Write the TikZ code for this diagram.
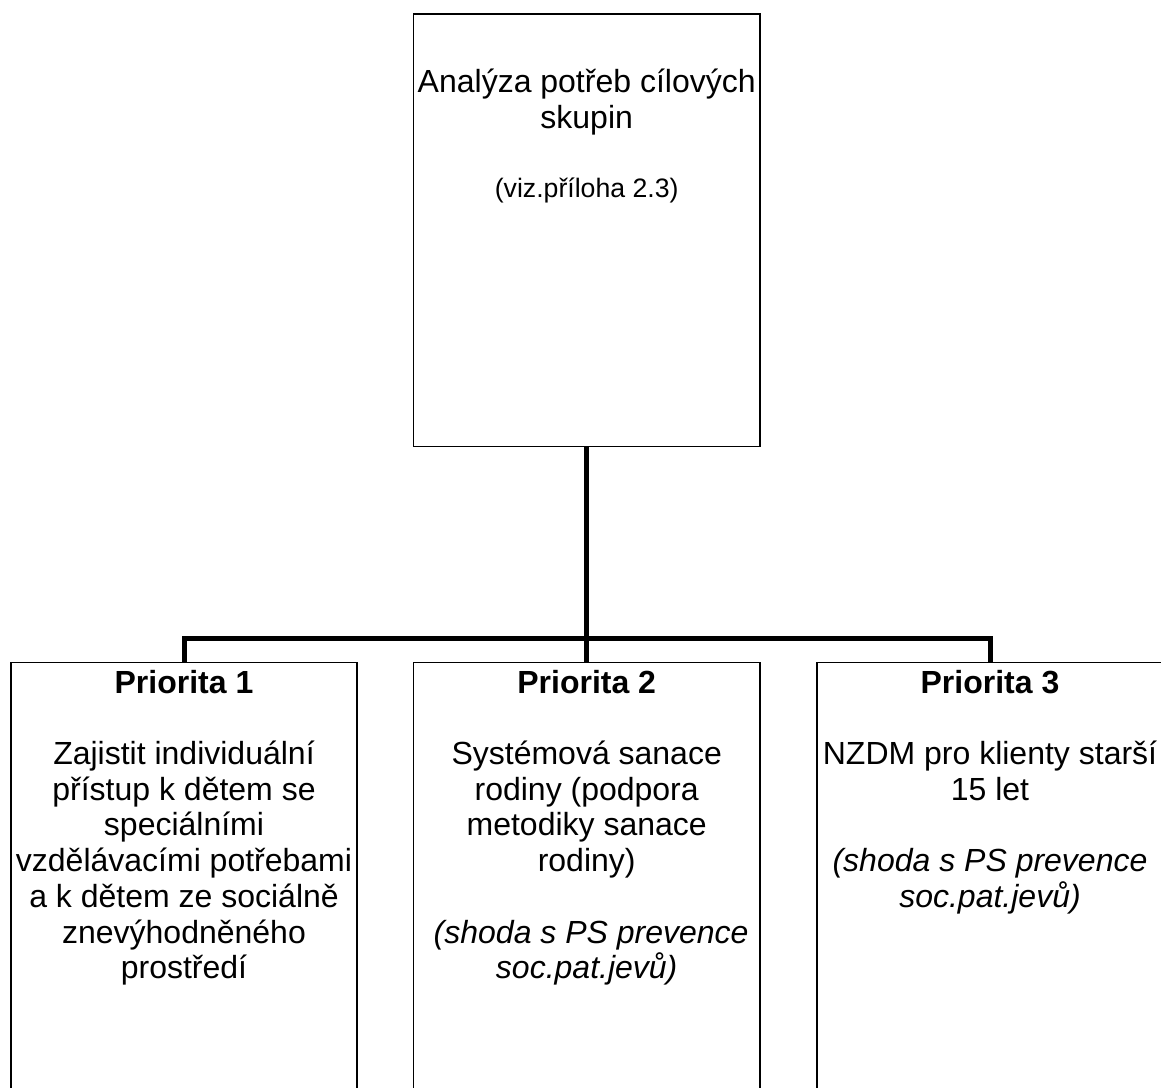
\documentclass[tikz,border=0pt]{standalone}
\usepackage{fontspec}
\setmainfont{Liberation Sans}
% centred block of lines whose first baseline is the node's base anchor
\newcommand\boxtext[1]{\parbox[t]{270pt}{\centering\fontsize{24}{26.8}\selectfont #1}}
\begin{document}
\begin{tikzpicture}[x=0.75pt,y=-0.75pt,
  frame/.style={draw=black,line width=1.3pt,fill=white,inner sep=0pt,
                minimum width=260pt,anchor=north},
  conn/.style={line width=3.75pt},
  txt/.style={anchor=base,inner sep=0pt}]
\clip (0,0) rectangle (1161,1088);
\fill[white] (0,0) rectangle (1161,1088);

% boxes
\node[frame,minimum height=324.3pt] (top) at (586.7,13.3) {};
\node[frame,minimum height=340pt] (p1) at (184,661.7) {};
\node[frame,minimum height=340pt] (p2) at (586.7,661.7) {};
\node[frame,minimum height=340pt] (p3) at (990,661.7) {};

% connectors
\coordinate (bus) at (0,638);
\draw[conn] (top.south) -- (p2.north);
\draw[conn] (p1.north) -- (p1.north |- bus) -- (p3.north |- bus) -- (p3.north);

% texts
\node[txt] (toptitle) at (586.7,92.5)
  {\parbox[t]{270pt}{\centering\fontsize{24}{26.8}\selectfont
   Analýza potřeb cílových\\ skupin}};
\node[txt] (topnote) at (586.7,197.5)
  {\fontsize{20}{22}\selectfont (viz.příloha 2.3)};

\node[txt] (t1) at (184,693) {\boxtext{\textbf{Priorita 1}\\[26.8pt]
  Zajistit individuální\\ přístup k dětem se\\ speciálními\\
  vzdělávacími potřebami\\ a k dětem ze sociálně\\ znevýhodněného\\ prostředí}};

\node[txt] (t2) at (586.7,693) {\boxtext{\textbf{Priorita 2}\\[26.8pt]
  Systémová sanace\\ rodiny (podpora\\ metodiky sanace\\ rodiny)\\[26.8pt]
  \hspace*{6.7pt}\textit{(shoda s PS prevence}\\ \textit{soc.pat.jevů)}}};

\node[txt] (t3) at (990,693) {\boxtext{\textbf{Priorita 3}\\[26.8pt]
  NZDM pro klienty starší\\ 15 let\\[26.8pt]
  \textit{(shoda s PS prevence}\\ \textit{soc.pat.jevů)}}};
\end{tikzpicture}
\end{document}
